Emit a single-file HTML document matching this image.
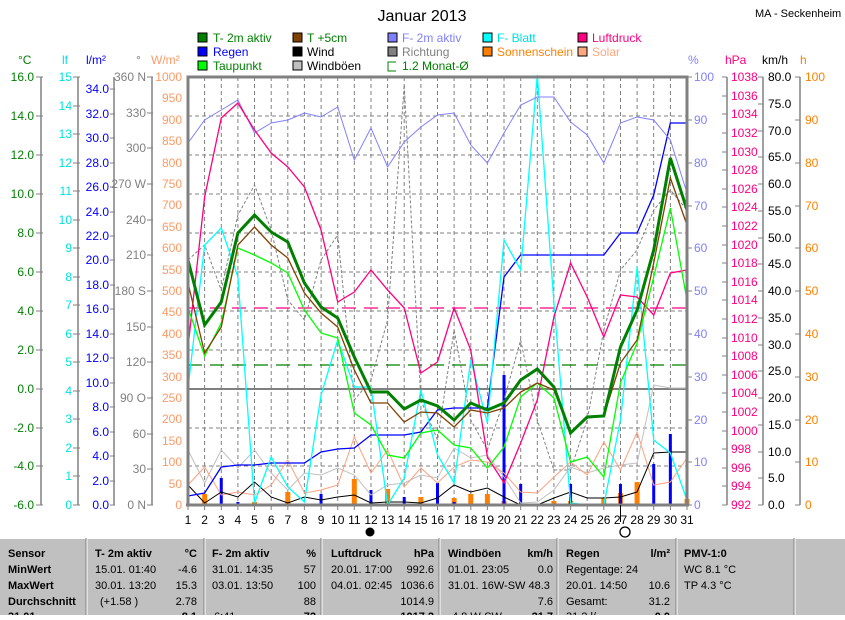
<!DOCTYPE html>
<html><head><meta charset="utf-8"><style>
body{margin:0;background:#fff;width:845px;height:615px;overflow:hidden;font-family:"Liberation Sans",sans-serif}
svg text{font-family:"Liberation Sans",sans-serif}
</style></head><body>
<svg width="845" height="615" viewBox="0 0 845 615" xmlns="http://www.w3.org/2000/svg">
<text x="422" y="21" font-size="16" text-anchor="middle">Januar 2013</text>
<text x="755" y="17" font-size="11">MA - Seckenheim</text>
<!-- legend -->
<g font-size="12">
<rect x="198" y="33" width="9" height="9" fill="#008000" stroke="#000"/><text x="213" y="42" fill="#008000">T- 2m aktiv</text>
<rect x="293" y="33" width="9" height="9" fill="#804000" stroke="#000"/><text x="307" y="42" fill="#008000">T +5cm</text>
<rect x="388" y="33" width="9" height="9" fill="#8080ff" stroke="#000"/><text x="402" y="42" fill="#8080ff">F- 2m aktiv</text>
<rect x="483" y="33" width="9" height="9" fill="#00ffff" stroke="#000"/><text x="497" y="42" fill="#00e0e0">F- Blatt</text>
<rect x="578" y="33" width="9" height="9" fill="#ff0080" stroke="#000"/><text x="592" y="42" fill="#ff0080">Luftdruck</text>
<rect x="198" y="47" width="9" height="9" fill="#0000ff" stroke="#000"/><text x="213" y="56" fill="#0000ff">Regen</text>
<rect x="293" y="47" width="9" height="9" fill="#000" stroke="#000"/><text x="307" y="56" fill="#000">Wind</text>
<rect x="388" y="47" width="9" height="9" fill="#808080" stroke="#000"/><text x="402" y="56" fill="#808080">Richtung</text>
<rect x="483" y="47" width="9" height="9" fill="#ff8000" stroke="#000"/><text x="497" y="56" fill="#ff8000">Sonnenschein</text>
<rect x="578" y="47" width="9" height="9" fill="#ffa880" stroke="#000"/><text x="592" y="56" fill="#ffa880">Solar</text>
<rect x="198" y="61" width="9" height="9" fill="#00ff00" stroke="#000"/><text x="213" y="70" fill="#008000">Taupunkt</text>
<rect x="293" y="61" width="9" height="9" fill="#c0c0c0" stroke="#000"/><text x="307" y="70" fill="#000">Windböen</text>
<path d="M396 62H388V71H396" fill="none" stroke="#008000"/><text x="402" y="70" fill="#008000">1.2 Monat-Ø</text>
</g>
<!-- unit labels -->
<g font-size="12">
<text x="18" y="64" fill="#008000">°C</text>
<text x="62" y="64" fill="#00e0e0">lf</text>
<text x="86" y="64" fill="#0000ff">l/m²</text>
<text x="136" y="64" fill="#808080">°</text>
<text x="151" y="64" fill="#ff9966">W/m²</text>
<text x="688" y="64" fill="#8080ff">%</text>
<text x="725" y="64" fill="#ff0080">hPa</text>
<text x="762" y="64" fill="#000">km/h</text>
<text x="800" y="64" fill="#ff8000">h</text>
</g>
<!-- left axes lines -->
<g stroke="#808080" stroke-width="1.5">
<line x1="41" y1="77" x2="41" y2="505"/><line x1="78" y1="77" x2="78" y2="505"/><line x1="114" y1="77" x2="114" y2="505"/><line x1="152" y1="77" x2="152" y2="505"/>
<line x1="727" y1="77" x2="727" y2="505"/><line x1="763" y1="77" x2="763" y2="505"/><line x1="800" y1="77" x2="800" y2="505"/>
</g>
<!-- °C -->
<g font-size="12" fill="#008000" text-anchor="end">
<text x="34" y="81">16.0</text><text x="34" y="120">14.0</text><text x="34" y="159">12.0</text><text x="34" y="198">10.0</text><text x="34" y="237">8.0</text><text x="34" y="276">6.0</text><text x="34" y="315">4.0</text><text x="34" y="354">2.0</text><text x="34" y="393">0.0</text><text x="34" y="432">-2.0</text><text x="34" y="470">-4.0</text><text x="34" y="509">-6.0</text>
</g>
<g stroke="#808080"><path d="M36 77h7M36 116h7M36 155h7M36 194h7M36 233h7M36 272h7M36 311h7M36 350h7M36 389h7M36 428h7M36 466h7M36 505h7"/></g>
<!-- lf -->
<g font-size="12" fill="#00e0e0" text-anchor="end">
<text x="72" y="81">15</text><text x="72" y="110">14</text><text x="72" y="138">13</text><text x="72" y="167">12</text><text x="72" y="195">11</text><text x="72" y="224">10</text><text x="72" y="252">9</text><text x="72" y="281">8</text><text x="72" y="309">7</text><text x="72" y="338">6</text><text x="72" y="366">5</text><text x="72" y="395">4</text><text x="72" y="423">3</text><text x="72" y="452">2</text><text x="72" y="480">1</text><text x="72" y="509">0</text>
</g>
<g stroke="#808080"><path d="M73 77h7M73 106h7M73 134h7M73 163h7M73 191h7M73 220h7M73 248h7M73 277h7M73 305h7M73 334h7M73 362h7M73 391h7M73 419h7M73 448h7M73 476h7M73 505h7"/></g>
<!-- l/m2 -->
<g font-size="12" fill="#0000ff" text-anchor="end">
<text x="109" y="93">34.0</text><text x="109" y="118">32.0</text><text x="109" y="142">30.0</text><text x="109" y="167">28.0</text><text x="109" y="191">26.0</text><text x="109" y="216">24.0</text><text x="109" y="240">22.0</text><text x="109" y="264">20.0</text><text x="109" y="289">18.0</text><text x="109" y="313">16.0</text><text x="109" y="338">14.0</text><text x="109" y="362">12.0</text><text x="109" y="387">10.0</text><text x="109" y="411">8.0</text><text x="109" y="436">6.0</text><text x="109" y="460">4.0</text><text x="109" y="485">2.0</text><text x="109" y="509">0.0</text>
</g>
<g stroke="#808080"><path d="M110 89h5M110 114h5M110 138h5M110 163h5M110 187h5M110 212h5M110 236h5M110 260h5M110 285h5M110 309h5M110 334h5M110 358h5M110 383h5M110 407h5M110 432h5M110 456h5M110 481h5M110 505h5"/></g>
<!-- degrees -->
<g font-size="12" fill="#808080" text-anchor="end">
<text x="146" y="81">360 N</text><text x="146" y="117">330</text><text x="146" y="152">300</text><text x="146" y="188">270 W</text><text x="146" y="224">240</text><text x="146" y="259">210</text><text x="146" y="295">180 S</text><text x="146" y="331">150</text><text x="146" y="366">120</text><text x="146" y="402">90 O</text><text x="146" y="438">60</text><text x="146" y="473">30</text><text x="146" y="509">0 N</text>
</g>
<g stroke="#808080"><path d="M147 77h6M147 113h6M147 148h6M147 184h6M147 220h6M147 255h6M147 291h6M147 327h6M147 362h6M147 398h6M147 434h6M147 469h6M147 505h6"/></g>
<!-- W/m2 -->
<g font-size="12" fill="#ff9966" text-anchor="end">
<text x="182" y="81">1000</text><text x="182" y="102">950</text><text x="182" y="124">900</text><text x="182" y="145">850</text><text x="182" y="167">800</text><text x="182" y="188">750</text><text x="182" y="209">700</text><text x="182" y="231">650</text><text x="182" y="252">600</text><text x="182" y="274">550</text><text x="182" y="295">500</text><text x="182" y="316">450</text><text x="182" y="338">400</text><text x="182" y="359">350</text><text x="182" y="381">300</text><text x="182" y="402">250</text><text x="182" y="423">200</text><text x="182" y="445">150</text><text x="182" y="466">100</text><text x="182" y="488">50</text><text x="182" y="509">0</text>
</g>
<!-- right axes -->
<g font-size="12" fill="#8080ff">
<text x="694" y="81">100</text><text x="694" y="124">90</text><text x="694" y="167">80</text><text x="694" y="210">70</text><text x="694" y="252">60</text><text x="694" y="295">50</text><text x="694" y="338">40</text><text x="694" y="381">30</text><text x="694" y="424">20</text><text x="694" y="466">10</text><text x="694" y="509">0</text>
</g>
<g stroke="#808080"><path d="M687 77h5M687 120h5M687 163h5M687 206h5M687 248h5M687 291h5M687 334h5M687 377h5M687 420h5M687 462h5M687 505h5"/></g>
<g font-size="12" fill="#ff0080">
<text x="731" y="81">1038</text><text x="731" y="100">1036</text><text x="731" y="118">1034</text><text x="731" y="137">1032</text><text x="731" y="156">1030</text><text x="731" y="174">1028</text><text x="731" y="193">1026</text><text x="731" y="211">1024</text><text x="731" y="230">1022</text><text x="731" y="249">1020</text><text x="731" y="267">1018</text><text x="731" y="286">1016</text><text x="731" y="304">1014</text><text x="731" y="323">1012</text><text x="731" y="342">1010</text><text x="731" y="360">1008</text><text x="731" y="379">1006</text><text x="731" y="397">1004</text><text x="731" y="416">1002</text><text x="731" y="435">1000</text><text x="731" y="453">998</text><text x="731" y="472">996</text><text x="731" y="490">994</text><text x="731" y="509">992</text>
</g>
<g stroke="#808080"><path d="M722 77h5M722 96h5M722 114h5M722 133h5M722 152h5M722 170h5M722 189h5M722 207h5M722 226h5M722 245h5M722 263h5M722 282h5M722 300h5M722 319h5M722 338h5M722 356h5M722 375h5M722 393h5M722 412h5M722 431h5M722 449h5M722 468h5M722 486h5M722 505h5"/></g>
<g font-size="12" fill="#000">
<text x="768" y="81">80.0</text><text x="768" y="108">75.0</text><text x="768" y="135">70.0</text><text x="768" y="161">65.0</text><text x="768" y="188">60.0</text><text x="768" y="215">55.0</text><text x="768" y="242">50.0</text><text x="768" y="268">45.0</text><text x="768" y="295">40.0</text><text x="768" y="322">35.0</text><text x="768" y="349">30.0</text><text x="768" y="375">25.0</text><text x="768" y="402">20.0</text><text x="768" y="429">15.0</text><text x="768" y="456">10.0</text><text x="768" y="482">5.0</text><text x="768" y="509">0.0</text>
</g>
<g stroke="#808080"><path d="M758 77h5M758 104h5M758 131h5M758 157h5M758 184h5M758 211h5M758 238h5M758 264h5M758 291h5M758 318h5M758 345h5M758 371h5M758 398h5M758 425h5M758 452h5M758 478h5M758 505h5"/></g>
<g font-size="12" fill="#ff8000">
<text x="805" y="81">100</text><text x="805" y="124">90</text><text x="805" y="167">80</text><text x="805" y="210">70</text><text x="805" y="252">60</text><text x="805" y="295">50</text><text x="805" y="338">40</text><text x="805" y="381">30</text><text x="805" y="424">20</text><text x="805" y="466">10</text><text x="805" y="509">0</text>
</g>
<g stroke="#808080"><path d="M795 77h5M795 120h5M795 163h5M795 206h5M795 248h5M795 291h5M795 334h5M795 377h5M795 420h5M795 462h5M795 505h5"/></g>
<!-- grid -->
<g stroke="#808080" stroke-dasharray="4,3" stroke-width="1">
<path d="M188 116H687M188 155H687M188 194H687M188 233H687M188 272H687M188 311H687M188 350H687M188 428H687M188 466H687"/>
<path d="M204.6 77V505M221.3 77V505M237.9 77V505M254.5 77V505M271.2 77V505M287.8 77V505M304.4 77V505M321.1 77V505M337.7 77V505M354.3 77V505M371 77V505M387.6 77V505M404.2 77V505M420.9 77V505M437.5 77V505M454.1 77V505M470.8 77V505M487.4 77V505M504 77V505M520.7 77V505M537.3 77V505M553.9 77V505M570.6 77V505M587.2 77V505M603.8 77V505M620.5 77V505M637.1 77V505M653.7 77V505M670.4 77V505"/>
</g>
<line x1="188" y1="389" x2="687" y2="389" stroke="#808080" stroke-width="2"/>
<line x1="188" y1="308" x2="687" y2="308" stroke="#ff0080" stroke-width="1.3" stroke-dasharray="14,8"/>
<line x1="188" y1="365" x2="687" y2="365" stroke="#008000" stroke-width="1.3" stroke-dasharray="14,8"/>
<!-- series in day coords -->
<g transform="translate(171.367,0) scale(16.633,1)" fill="none">
<g vector-effect="non-scaling-stroke">
<!-- sunshine bars -->
<path stroke="#ff8000" stroke-width="5" vector-effect="non-scaling-stroke" d="M2 505V494M5 505V502M7 505V492M11 505V479M13 505V489M15 505V497M17 505V498M18 505V494M19 505V494M20 505V501M23 505V501M24 505V501M26 505V498M27 505V493M28 505V482M31 505V499"/>
<!-- rain bars -->
<path stroke="#0000ff" stroke-width="3" vector-effect="non-scaling-stroke" d="M1 505V496M3 505V478M4 505V502M9 505V494M12 505V490M14 505V497M16 505V483M17 505V502M20 505V375M21 505V484M24 505V484M27 505V484M29 505V464M30 505V434M31 505V487"/>
<polyline vector-effect="non-scaling-stroke" stroke="#808080" stroke-width="1" stroke-dasharray="3,2" points="1,260 2,245 3,290 4,215 5,185 6,230 7,300 8,320 9,260 10,235 11,400 12,380 13,320 14,85 15,400 16,440 17,330 18,420 19,450 20,400 21,340 22,420 23,470 24,470 25,420 26,330 27,270 28,250 29,210 30,190 31,210"/>
<polyline vector-effect="non-scaling-stroke" stroke="#c0c0c0" stroke-width="1" points="1,450 2,483 3,450 4,468 5,450 6,473 7,490 8,473 9,475 10,468 11,475 12,495 13,485 14,483 15,475 16,478 17,448 18,458 19,455 20,477 21,503 22,502 23,490 24,467 25,473 26,468 27,465 28,463 29,385 30,388 31,388"/>
<polyline vector-effect="non-scaling-stroke" stroke="#ffa080" stroke-width="1" points="1,485 2,467 3,495 4,492 5,495 6,485 7,460 8,493 9,490 10,485 11,437 12,473 13,450 14,487 15,468 16,483 17,467 18,460 19,462 20,473 21,492 22,493 23,477 24,462 25,475 26,442 27,470 28,432 29,485 30,482 31,458"/>
<polyline vector-effect="non-scaling-stroke" stroke="#000" stroke-width="1" points="1,485 2,503 3,492 4,497 5,482 6,497 7,503 8,497 9,500 10,497 11,495 12,503 13,502 14,502 15,503 16,498 17,485 18,492 19,488 20,497 21,505 22,505 23,498 24,492 25,498 26,498 27,497 28,492 29,453 30,452 31,452"/>
<polyline vector-effect="non-scaling-stroke" stroke="#0000ff" stroke-width="1.3" points="1,496 2,493 3,467 4,465 5,465 6,463 7,463 8,463 9,452 10,449 11,448 12,435 13,435 14,435 15,432 16,410 17,408 18,408 19,408 20,277 21,255 22,255 23,255 24,255 25,255 26,255 27,233 28,233 29,195 30,123 31,123"/>
<polyline vector-effect="non-scaling-stroke" stroke="#00ffff" stroke-width="1.3" points="1,388 2,245 3,228 4,277 5,503 6,457 7,487 8,502 9,395 10,340 11,387 12,387 13,505 14,478 15,390 16,455 17,483 18,360 19,423 20,240 21,270 22,75 23,303 24,503 25,505 26,505 27,420 28,267 29,440 30,453 31,500"/>
<polyline vector-effect="non-scaling-stroke" stroke="#8080ff" stroke-width="1" points="1,143 2,120 3,110 4,100 5,133 6,123 7,120 8,113 9,117 10,107 11,160 12,128 13,167 14,142 15,127 16,115 17,113 18,145 19,163 20,133 21,105 22,97 23,97 24,122 25,135 26,163 27,123 28,117 29,120 30,140 31,193"/>
<polyline vector-effect="non-scaling-stroke" stroke="#ff0080" stroke-width="1.3" points="1,347 2,197 3,118 4,103 5,130 6,153 7,167 8,187 9,230 10,302 11,292 12,270 13,290 14,308 15,373 16,362 17,308 18,350 19,457 20,483 21,443 22,400 23,317 24,263 25,297 26,337 27,295 28,297 29,315 30,273 31,270"/>
<polyline vector-effect="non-scaling-stroke" stroke="#00ff00" stroke-width="1.3" points="1,308 2,356 3,323 4,248 5,255 6,263 7,273 8,310 9,333 10,338 11,413 12,425 13,455 14,458 15,433 16,430 17,445 18,448 19,468 20,447 21,397 22,383 23,398 24,462 25,457 26,477 27,383 28,343 29,277 30,208 31,300"/>
<polyline vector-effect="non-scaling-stroke" stroke="#804000" stroke-width="1.3" points="1,283 2,353 3,327 4,245 5,227 6,245 7,258 8,293 9,313 10,327 11,370 12,403 13,403 14,422 15,412 16,413 17,427 18,410 19,413 20,408 21,392 22,383 23,390 24,432 25,418 26,416 27,363 28,340 29,263 30,178 31,225"/>
<polyline vector-effect="non-scaling-stroke" stroke="#008000" stroke-width="3" points="1,260 2,325 3,302 4,233 5,215 6,232 7,242 8,283 9,307 10,318 11,357 12,392 13,392 14,409 15,400 16,406 17,420 18,403 19,410 20,403 21,380 22,369 23,387 24,433 25,417 26,416 27,347 28,310 29,250 30,158 31,210"/>
</g></g>
<!-- frame -->
<path d="M188 505V77H687V505" fill="none" stroke="#808080" stroke-width="3"/>
<line x1="186" y1="505" x2="689" y2="505" stroke="#808080" stroke-width="3"/>
<!-- bottom ticks/labels -->
<g stroke="#808080"><path d="M188 505v5M204.6 505v5M221.3 505v5M237.9 505v5M254.5 505v5M271.2 505v5M287.8 505v5M304.4 505v5M321.1 505v5M337.7 505v5M354.3 505v5M371 505v5M387.6 505v5M404.2 505v5M420.9 505v5M437.5 505v5M454.1 505v5M470.8 505v5M487.4 505v5M504 505v5M520.7 505v5M537.3 505v5M553.9 505v5M570.6 505v5M587.2 505v5M603.8 505v5M620.5 505v5M637.1 505v5M653.7 505v5M670.4 505v5M687 505v5"/></g>
<line x1="620.5" y1="505" x2="620.5" y2="522" stroke="#000"/>
<g font-size="12" fill="#000" text-anchor="middle">
<text x="188" y="524">1</text><text x="204.6" y="524">2</text><text x="221.3" y="524">3</text><text x="237.9" y="524">4</text><text x="254.5" y="524">5</text><text x="271.2" y="524">6</text><text x="287.8" y="524">7</text><text x="304.4" y="524">8</text><text x="321.1" y="524">9</text><text x="337.7" y="524">10</text><text x="354.3" y="524">11</text><text x="371" y="524">12</text><text x="387.6" y="524">13</text><text x="404.2" y="524">14</text><text x="420.9" y="524">15</text><text x="437.5" y="524">16</text><text x="454.1" y="524">17</text><text x="470.8" y="524">18</text><text x="487.4" y="524">19</text><text x="504" y="524">20</text><text x="520.7" y="524">21</text><text x="537.3" y="524">22</text><text x="553.9" y="524">23</text><text x="570.6" y="524">24</text><text x="587.2" y="524">25</text><text x="603.8" y="524">26</text><text x="620.5" y="524">27</text><text x="637.1" y="524">28</text><text x="653.7" y="524">29</text><text x="670.4" y="524">30</text><text x="687" y="524">31</text>
</g>
<circle cx="370" cy="532" r="4.5" fill="#000"/>
<circle cx="625" cy="532" r="5" fill="#fff" stroke="#000" stroke-width="1.3"/>
<!-- table -->
<rect x="0" y="538" width="845" height="77" fill="#c0c0c0"/>
<g stroke="#fff"><path d="M87 538V615M205 538V615M322 538V615M440 538V615M558 538V615M677 538V615M795 538V615M0 538.5H845"/></g>
<g stroke="#808080"><path d="M86 538V615M204 538V615M321 538V615M439 538V615M557 538V615M676 538V615M794 538V615"/></g>
<g font-size="11" fill="#000">
<g font-weight="bold">
<text x="8" y="557">Sensor</text><text x="8" y="573">MinWert</text><text x="8" y="589">MaxWert</text><text x="8" y="605">Durchschnitt</text><text x="8" y="620">31.01.</text>
<text x="95" y="557">T- 2m aktiv</text><text x="197" y="557" text-anchor="end">°C</text>
<text x="212" y="557">F- 2m aktiv</text><text x="316" y="557" text-anchor="end">%</text>
<text x="331" y="557">Luftdruck</text><text x="434" y="557" text-anchor="end">hPa</text>
<text x="448" y="557">Windböen</text><text x="553" y="557" text-anchor="end">km/h</text>
<text x="566" y="557">Regen</text><text x="670" y="557" text-anchor="end">l/m²</text>
<text x="684" y="557">PMV-1:0</text>
<text x="197" y="620" text-anchor="end">8.1</text><text x="316" y="620" text-anchor="end">72</text><text x="434" y="620" text-anchor="end">1017.2</text><text x="553" y="620" text-anchor="end">21.7</text><text x="670" y="620" text-anchor="end">0.0</text>
</g>
<text x="95" y="573">15.01.  01:40</text><text x="197" y="573" text-anchor="end">-4.6</text>
<text x="212" y="573">31.01.  14:35</text><text x="316" y="573" text-anchor="end">57</text>
<text x="331" y="573">20.01.  17:00</text><text x="434" y="573" text-anchor="end">992.6</text>
<text x="448" y="573">01.01.  23:05</text><text x="553" y="573" text-anchor="end">0.0</text>
<text x="566" y="573">Regentage: 24</text>
<text x="684" y="573">WC 8.1 °C</text>
<text x="95" y="589">30.01.  13:20</text><text x="197" y="589" text-anchor="end">15.3</text>
<text x="212" y="589">03.01.  13:50</text><text x="316" y="589" text-anchor="end">100</text>
<text x="331" y="589">04.01.  02:45</text><text x="434" y="589" text-anchor="end">1036.6</text>
<text x="448" y="589">31.01.  16W-SW 48.3</text>
<text x="566" y="589">20.01.  14:50</text><text x="670" y="589" text-anchor="end">10.6</text>
<text x="684" y="589">TP 4.3 °C</text>
<text x="100" y="605">(+1.58 )</text><text x="197" y="605" text-anchor="end">2.78</text>
<text x="316" y="605" text-anchor="end">88</text>
<text x="434" y="605" text-anchor="end">1014.9</text>
<text x="553" y="605" text-anchor="end">7.6</text>
<text x="566" y="605">Gesamt:</text><text x="670" y="605" text-anchor="end">31.2</text>
<text x="214" y="620">6:41 ...</text><text x="452" y="620">4.8 W-SW</text><text x="566" y="620">31.2 l/...</text>
</g>
</svg>
</body></html>
